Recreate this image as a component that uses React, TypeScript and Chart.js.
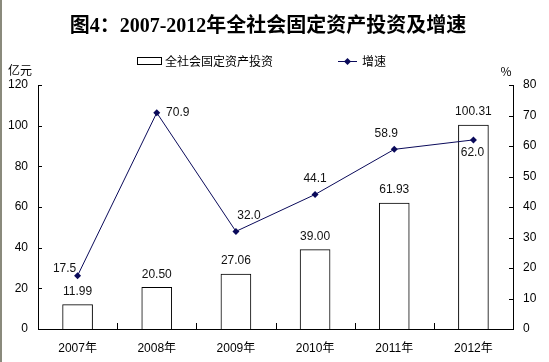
import React, { useEffect, useRef } from "react";
import { Chart, registerables } from "chart.js";

Chart.register(...registerables);

const categories = ["2007年", "2008年", "2009年", "2010年", "2011年", "2012年"];
const investment = [11.99, 20.5, 27.06, 39.0, 61.93, 100.31];
const investmentLabels = ["11.99", "20.50", "27.06", "39.00", "61.93", "100.31"];
const growth = [17.5, 70.9, 32.0, 44.1, 58.9, 62.0];
const growthLabels = ["17.5", "70.9", "32.0", "44.1", "58.9", "62.0"];
const growthLabelOffsets: [number, number][] = [
  [-13, -7],
  [21, 0],
  [13, -16],
  [0, -16],
  [-8, -16],
  [-1, 13],
];

const title = "图4：2007-2012年全社会固定资产投资及增速";
const barName = "全社会固定资产投资";
const lineName = "增速";
const leftUnit = "亿元";
const rightUnit = "%";

const FONT = "'Liberation Sans', Arial, 'Noto Sans CJK SC', sans-serif";
const LINE_COLOR = "#0a0a5a";

const overlay = {
  id: "overlay",
  afterDatasetsDraw(chart: any) {
    const ctx = chart.ctx as CanvasRenderingContext2D;
    const area = chart.chartArea;
    ctx.save();
    // inward ticks
    ctx.strokeStyle = "#000";
    ctx.lineWidth = 1;
    const yL = chart.scales.y;
    const yR = chart.scales.y1;
    const x = chart.scales.x;
    ctx.beginPath();
    yL.ticks.forEach((t: any) => {
      const py = Math.round(yL.getPixelForValue(t.value)) + 0.5;
      ctx.moveTo(area.left, py);
      ctx.lineTo(area.left + 4, py);
    });
    yR.ticks.forEach((t: any) => {
      const py = Math.round(yR.getPixelForValue(t.value)) + 0.5;
      ctx.moveTo(area.right, py);
      ctx.lineTo(area.right - 4, py);
    });
    const n = categories.length;
    const w = (area.right - area.left) / n;
    for (let i = 1; i < n; i++) {
      const px = Math.round(area.left + w * i) + 0.5;
      ctx.moveTo(px, area.bottom);
      ctx.lineTo(px, area.bottom - 6);
    }
    ctx.stroke();

    // data labels
    ctx.fillStyle = "#111";
    ctx.font = `12px ${FONT}`;
    ctx.textAlign = "center";
    ctx.textBaseline = "middle";
    const barMeta = chart.getDatasetMeta(0);
    barMeta.data.forEach((el: any, i: number) => {
      ctx.fillText(investmentLabels[i], el.x, el.y - 13);
    });
    const lineMeta = chart.getDatasetMeta(1);
    lineMeta.data.forEach((el: any, i: number) => {
      const [dx, dy] = growthLabelOffsets[i];
      ctx.fillText(growthLabels[i], el.x + dx, el.y + dy);
    });
    ctx.restore();
  },
  afterDraw(chart: any) {
    const ctx = chart.ctx as CanvasRenderingContext2D;
    ctx.save();
    // title
    ctx.fillStyle = "#000";
    ctx.font = `bold 20px 'Liberation Serif', 'Noto Sans CJK SC', serif`;
    ctx.textAlign = "center";
    ctx.textBaseline = "middle";
    ctx.fillText(title, 268, 27);

    // legend
    ctx.font = `12px 'Noto Sans CJK SC', ${FONT}`;
    ctx.textAlign = "left";
    ctx.fillStyle = "#fff";
    ctx.fillRect(137.5, 57.5, 24, 7);
    ctx.strokeStyle = "#000";
    ctx.lineWidth = 1;
    ctx.strokeRect(137.5, 57.5, 24, 7);
    ctx.fillStyle = "#000";
    ctx.fillText(barName, 165, 61);

    ctx.strokeStyle = LINE_COLOR;
    ctx.beginPath();
    ctx.moveTo(338, 61.5);
    ctx.lineTo(357, 61.5);
    ctx.stroke();
    ctx.fillStyle = LINE_COLOR;
    ctx.beginPath();
    ctx.moveTo(347.5, 58);
    ctx.lineTo(351, 61.5);
    ctx.lineTo(347.5, 65);
    ctx.lineTo(344, 61.5);
    ctx.closePath();
    ctx.fill();
    ctx.fillStyle = "#000";
    ctx.fillText(lineName, 362, 61);

    // units
    ctx.textAlign = "center";
    ctx.fillText(leftUnit, 20, 70);
    ctx.fillText(rightUnit, 506, 71);
    ctx.restore();
  },
};

export default function App() {
  const ref = useRef<HTMLCanvasElement | null>(null);
  useEffect(() => {
    document.body.style.margin = "0";
    const canvas = ref.current;
    if (!canvas) return;
    const chart = new Chart(canvas, {
      type: "bar",
      data: {
        labels: categories,
        datasets: [
          {
            type: "bar",
            label: barName,
            data: investment,
            backgroundColor: "#ffffff",
            borderColor: "#000000",
            borderWidth: 1,
            barThickness: 30,
            yAxisID: "y",
            order: 2,
          } as any,
          {
            type: "line",
            label: lineName,
            data: growth,
            borderColor: LINE_COLOR,
            backgroundColor: LINE_COLOR,
            borderWidth: 1,
            pointStyle: "rectRot",
            pointRadius: 3.5,
            pointBackgroundColor: LINE_COLOR,
            pointBorderColor: LINE_COLOR,
            pointBorderWidth: 0,
            yAxisID: "y1",
            order: 1,
            tension: 0,
          } as any,
        ],
      },
      options: {
        responsive: false,
        animation: false,
        layout: { padding: { top: 85, left: 0, right: 0, bottom: 0 } },
        plugins: {
          legend: { display: false },
          tooltip: { enabled: false },
          title: { display: false },
        },
        scales: {
          x: {
            offset: true,
            grid: { display: false, drawTicks: false },
            border: { display: true, color: "#000", width: 1 },
            ticks: { color: "#000", font: { size: 12, family: FONT }, padding: 12, maxRotation: 0 },
            afterFit: (s: any) => {
              s.height = 33;
            },
          },
          y: {
            position: "left",
            min: 0,
            max: 120,
            grid: { display: false, drawTicks: false },
            border: { display: true, color: "#000", width: 1 },
            ticks: { stepSize: 20, color: "#000", font: { size: 12, family: FONT }, padding: 10 },
            afterFit: (s: any) => {
              s.width = 38;
            },
          },
          y1: {
            position: "right",
            min: 0,
            max: 80,
            grid: { display: false, drawTicks: false },
            border: { display: true, color: "#000", width: 1 },
            ticks: { stepSize: 10, color: "#000", font: { size: 12, family: FONT }, padding: 10 },
            afterFit: (s: any) => {
              s.width = 36;
            },
          },
        },
      },
      plugins: [overlay],
    });
    return () => chart.destroy();
  }, []);
  return (
    <div style={{ width: 549, height: 362, position: "relative", background: "#fff" }}>
      <div style={{ position: "absolute", left: 0, top: 0, width: 2, height: 362, background: "#8a8a7c" }} />
      <canvas ref={ref} width={549} height={362} style={{ display: "block" }} />
    </div>
  );
}
